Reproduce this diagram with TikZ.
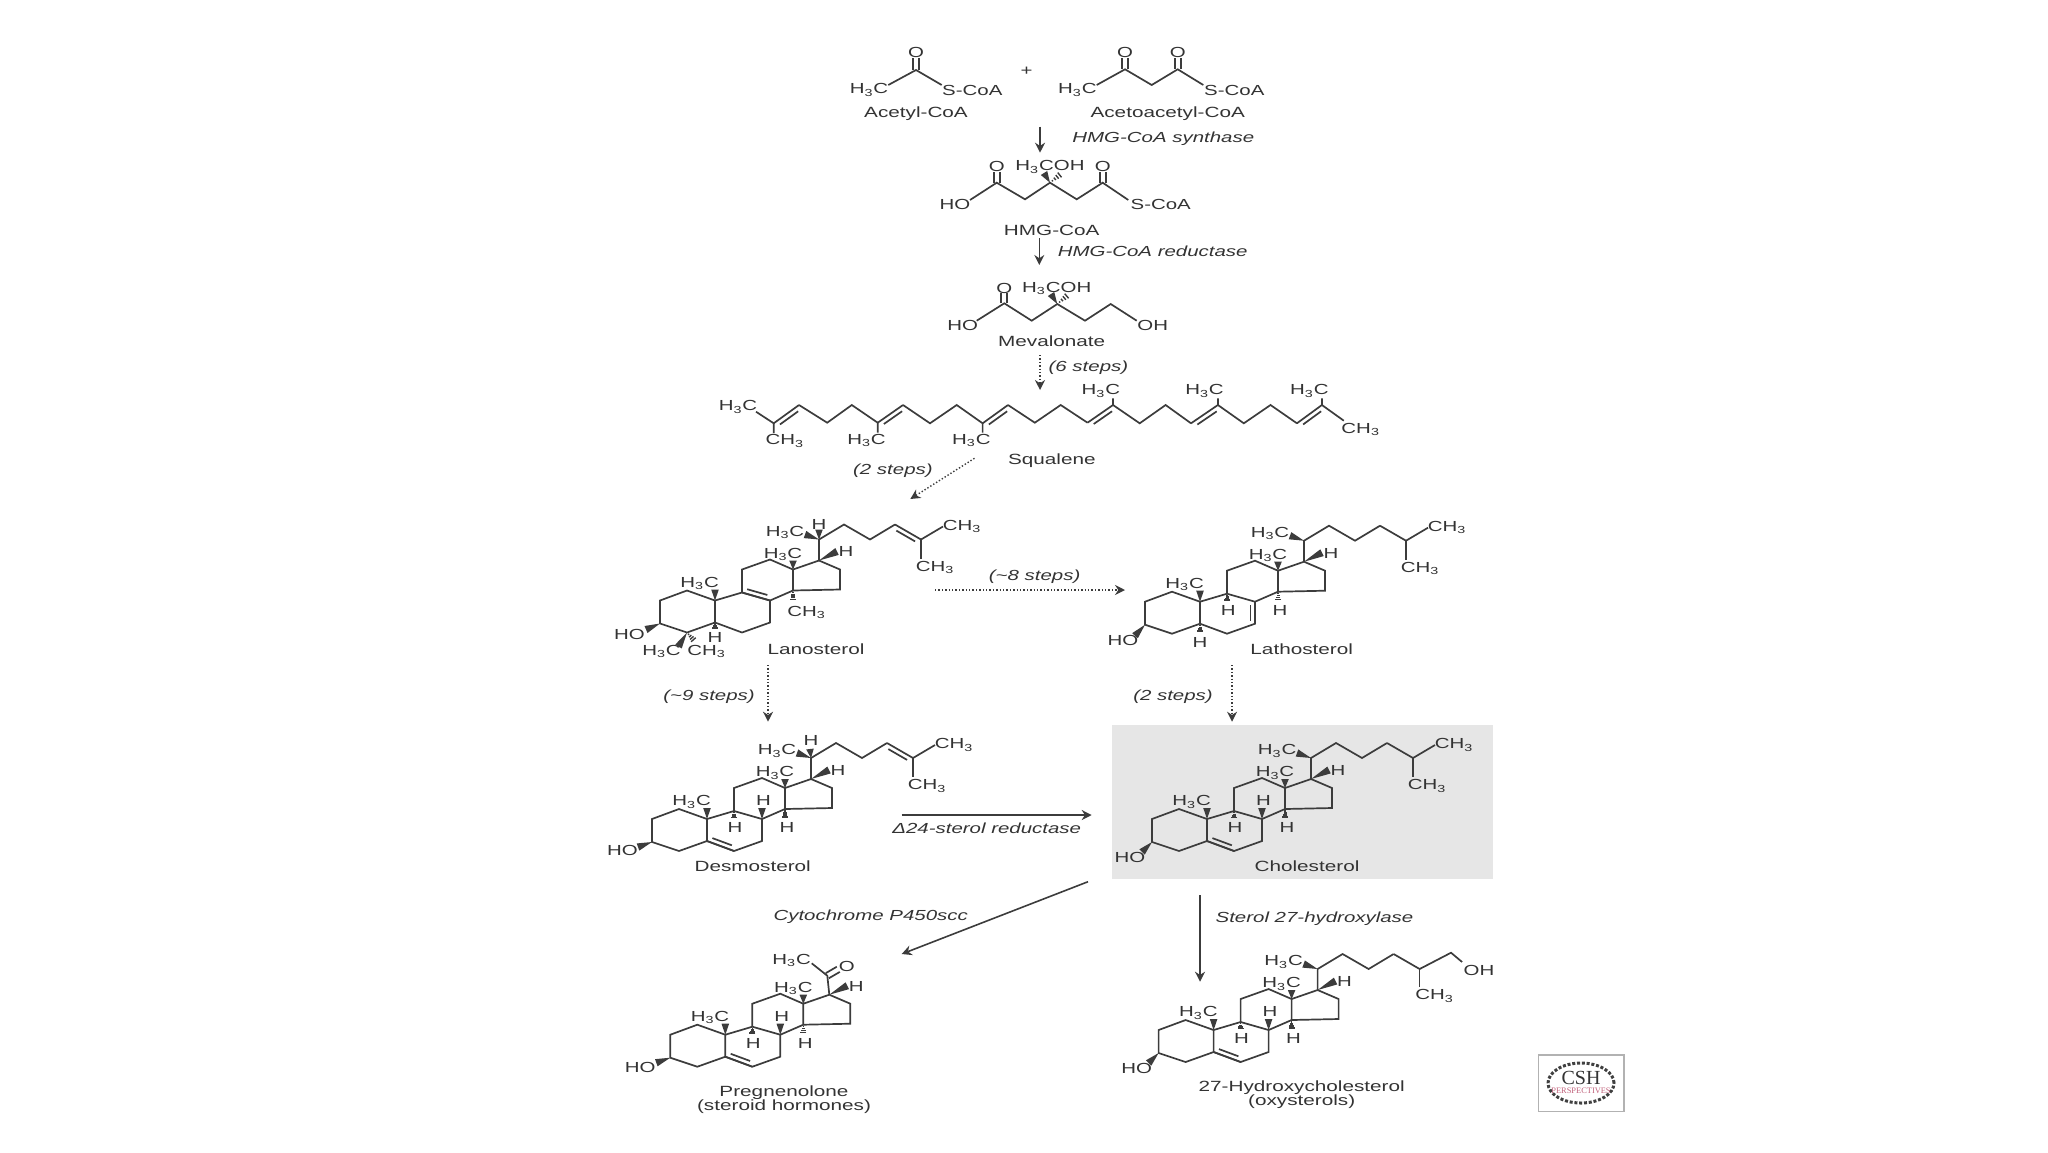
\documentclass[tikz,border=0pt]{standalone}
\usepackage{fontspec}
\setmainfont[FakeStretch=1.4]{Liberation Sans}
\newfontfamily\cshfont{Liberation Serif}
\usepackage{xcolor}
\usetikzlibrary{arrows.meta, calc, shapes.geometric}
\definecolor{inkcolor}{HTML}{333333}
\definecolor{bondcolor}{HTML}{3C3C3C}
\definecolor{boxcolor}{HTML}{E6E6E6}
\definecolor{cshred}{HTML}{C0607A}

% Label shorthands
\newcommand{\hthreec}{H\textsubscript{3}C}
\newcommand{\chthree}{CH\textsubscript{3}}
\newcommand{\hthreecoh}{H\textsubscript{3}COH}

% Bond helpers
\newcommand{\dbond}[3]{%
  \draw[bond] (#1) -- (#2);
  \draw[bond] ($(#1)!0.14!(#2)!2.3pt!#3:(#2)$) -- ($(#2)!0.14!(#1)!2.3pt!-#3:(#1)$);}
\newcommand{\cobond}[2]{%
  \draw[bond] ($(#1)!1.5pt!90:(#2)$) -- ($(#2)!1.5pt!-90:(#1)$);
  \draw[bond] ($(#1)!1.5pt!-90:(#2)$) -- ($(#2)!1.5pt!90:(#1)$);}
\newcommand{\wdgbond}[2]{%
  \fill[bondcolor] (#1) -- ($(#2)!1.9pt!90:(#1)$) -- ($(#2)!1.9pt!-90:(#1)$) -- cycle;}
\newcommand{\hshbond}[2]{%
  \foreach \t in {0.2,0.4,0.6,0.8,1.0}
    \draw[bondcolor, line width=0.7pt] ($(#1)!\t!(#2)!{\t*1.9pt}!90:(#2)$) -- ($(#1)!\t!(#2)!{\t*1.9pt}!-90:(#2)$);}

% Four rings with the groups that all the sterols share
\newcommand{\sterolcore}{%
  \coordinate (c1) at (79,89);
  \coordinate (c2) at (52,99);
  \coordinate (c3) at (52,122);
  \coordinate (c4) at (79,131);
  \coordinate (c5) at (107,121);
  \coordinate (c6) at (134,131);
  \coordinate (c7) at (162,121);
  \coordinate (c8) at (162,99);
  \coordinate (c9) at (134,91);
  \coordinate (c10) at (107,99);
  \coordinate (c11) at (134,68);
  \coordinate (c12) at (162,58);
  \coordinate (c13) at (185,68);
  \coordinate (c14) at (185,89);
  \coordinate (c15) at (232,88);
  \coordinate (c16) at (232,68);
  \coordinate (c17) at (211,59);
  \draw[bond] (c10) -- (c1) -- (c2) -- (c3) -- (c4) -- (c5) -- (c10) -- (c9) -- (c11) -- (c12) -- (c13) -- (c14) -- (c8) -- (c9);
  \draw[bond] (c5) -- (c6) -- (c7) -- (c8);
  \draw[bond] (c13) -- (c17) -- (c16) -- (c15) -- (c14);
  \wdgbond{c10}{107,88}
  \wdgbond{c13}{185,59}
  \wdgbond{c17}{229,50}
  \node[atom] (me19) at (91.7,81) {\hthreec};
  \node[atom] (me18) at (175,52) {\hthreec};
  \node[atom] (h17) at (238,49.5) {H};
}
% Side chain as far as the branch point
\newcommand{\sterolchain}{%
  \coordinate (c20) at (211,38);
  \coordinate (c22) at (236,23);
  \coordinate (c23) at (262,38);
  \coordinate (c24) at (287,23);
  \coordinate (c25) at (313,38);
  \draw[bond] (c17) -- (c20) -- (c22) -- (c23) -- (c24);
  \wdgbond{c20}{197,33}
  \node[atom] (me21) at (177,30) {\hthreec};
}
\newcommand{\sterolends}{%
  \draw[bond] (c25) -- (335,25);
  \draw[bond] (c25) -- (313,57);
  \node[atom] (me26) at (354,24) {\chthree};
  \node[atom] (me27) at (327,65) {\chthree};
}
% Ring hydrogens at C8, C9 and C14
\newcommand{\sterolh}{%
  \hshbond{c9}{134,99}
  \wdgbond{c8}{162,88}
  \hshbond{c14}{185,99}
  \node[atom] (h9) at (135,107) {H};
  \node[atom] (h8) at (163.5,80) {H};
  \node[atom] (h14) at (187,107) {H};
}

\begin{document}
\begin{tikzpicture}[
    x=0.5pt, y=-0.5pt,
    bond/.style={draw=bondcolor, line width=0.85pt},
    atom/.style={font=\fontsize{7.3pt}{9pt}\selectfont, text=inkcolor, inner sep=0pt, yshift=-0.4pt},
    molname/.style={font=\fontsize{7.4pt}{9pt}\selectfont, text=inkcolor, inner sep=0pt, align=center, yshift=-0.5pt},
    enzyme/.style={font=\fontsize{7.3pt}{9pt}\selectfont\itshape, text=inkcolor, inner sep=0pt, yshift=-0.7pt},
    arrow/.style={bondcolor, line width=0.8pt, -{Stealth[length=5pt, width=5pt]}},
    dotarrow/.style={bondcolor, line width=0.7pt, densely dotted, -{Stealth[length=5pt, width=5pt]}}
]
    \useasboundingbox (0,0) rectangle (2048,1152);

    % Grey panel behind cholesterol
    \node[fill=boxcolor, minimum width=190.6pt, minimum height=77pt, inner sep=0pt] (cholbox) at (1302.3,802) {};

    % Acetyl-CoA
    \node[atom] (acme) at (869,89.3) {\hthreec};
    \node[atom] (aco) at (916,51.7) {O};
    \node[atom] (acs) at (972.3,89.3) {S-CoA};
    \draw[bond] (888.3,85) -- (916,70) -- (941.7,85);
    \cobond{916,70}{916,58}
    \node[molname] (acetyl) at (916,112.7) {Acetyl-CoA};
    \node[atom] (plus) at (1026.7,70) {+};

    % Acetoacetyl-CoA
    \node[atom] (aame) at (1077.3,89.3) {\hthreec};
    \node[atom] (aao1) at (1125,51.7) {O};
    \node[atom] (aao2) at (1177.7,51.7) {O};
    \node[atom] (aas) at (1234.3,89.3) {S-CoA};
    \draw[bond] (1096.7,85) -- (1125,69.3) -- (1151.7,85) -- (1177.7,69.3) -- (1203.3,85);
    \cobond{1125,69.3}{1125,58}
    \cobond{1177.7,69.3}{1177.7,58}
    \node[molname] (acetoacetyl) at (1167.7,112.7) {Acetoacetyl-CoA};

    % HMG-CoA
    \node[atom] (hmgho) at (955,204) {HO};
    \node[atom] (hmgo1) at (996.7,166) {O};
    \node[atom] (hmgme) at (1050,166) {\hthreecoh};
    \node[atom] (hmgo2) at (1102.7,166) {O};
    \node[atom] (hmgs) at (1160.7,204) {S-CoA};
    \draw[bond] (970,200) -- (996.7,182.7) -- (1025,199.3) -- (1050,182.7) -- (1076.7,199.3) -- (1102.7,182.7) -- (1128.3,200);
    \cobond{996.7,182.7}{996.7,172}
    \cobond{1102.7,182.7}{1102.7,172}
    \wdgbond{1050,182.7}{1044,173}
    \hshbond{1050,182.7}{1062,173}
    \node[molname] (hmgcoa) at (1051.7,229.3) {HMG-CoA};

    % Mevalonate
    \node[atom] (mvaho) at (962.7,325) {HO};
    \node[atom] (mvao) at (1004.3,287.3) {O};
    \node[atom] (mvame) at (1056.7,287.3) {\hthreecoh};
    \node[atom] (mvaoh) at (1152.7,325) {OH};
    \draw[bond] (976.7,320.7) -- (1004.3,303.3) -- (1031.7,320.7) -- (1057.3,304) -- (1085,320.7) -- (1110.7,304) -- (1136.7,320.7);
    \cobond{1004.3,303.3}{1004.3,293}
    \wdgbond{1057.3,304}{1051,294}
    \hshbond{1057.3,304}{1069,294}
    \node[molname] (mevalonate) at (1051.7,340.7) {Mevalonate};

    % Squalene
    \node[atom] (sq1) at (738,406) {\hthreec};
    \node[atom] (sq2) at (784.8,440) {\chthree};
    \node[atom] (sq3) at (866.5,439.3) {\hthreec};
    \node[atom] (sq4) at (971.4,439.3) {\hthreec};
    \node[atom] (sq5) at (1100.9,390) {\hthreec};
    \node[atom] (sq6) at (1204.5,390) {\hthreec};
    \node[atom] (sq7) at (1309.4,390) {\hthreec};
    \node[atom] (sq8) at (1360.7,428.3) {\chthree};
    \draw[bond] (756,411.7) -- (773.7,423.3) -- (773.7,433);
    \draw[bond] (799,405) -- (827.2,422.7) -- (851.8,405) -- (877.7,422.7) -- (877.7,432.7);
    \draw[bond] (903,405) -- (930,423.3) -- (956.7,405) -- (982.6,423.3) -- (982.6,432.7);
    \draw[bond] (1008,405) -- (1034.8,422.7) -- (1060.7,405) -- (1087.5,422.7);
    \draw[bond] (1113,398.3) -- (1113,405) -- (1139.7,423.3) -- (1165.6,405) -- (1191,423.3);
    \draw[bond] (1217.9,398.3) -- (1217.9,405) -- (1243.8,423.3) -- (1270.5,405) -- (1296.9,423.3);
    \draw[bond] (1321.9,398.3) -- (1321.9,405) -- (1343.8,420.7);
    \dbond{773.7,423.3}{799,405}{-90}
    \dbond{877.7,422.7}{903,405}{-90}
    \dbond{982.6,423.3}{1008,405}{-90}
    \dbond{1087.5,422.7}{1113,405}{-90}
    \dbond{1191,423.3}{1217.9,405}{-90}
    \dbond{1296.9,423.3}{1321.9,405}{-90}
    \node[molname] (squalene) at (1051.8,459.3) {Squalene};

    % Lanosterol
    \begin{scope}[shift={(608,501.5)}, name prefix=lano-]
        \sterolcore
        \sterolchain
        \dbond{c24}{c25}{-90}
        \sterolends
        \dbond{c9}{c8}{90}
        \wdgbond{c3}{38,128}
        \node[atom] (ho) at (21.5,132.5) {HO};
        \wdgbond{c20}{211,28}
        \node[atom] (h20) at (211,22) {H};
        \hshbond{c5}{107,128}
        \node[atom] (h5) at (107,135.5) {H};
        \wdgbond{c4}{70.5,145}
        \hshbond{c4}{87,140}
        \node[atom] (me30) at (53.5,149.2) {\hthreec};
        \node[atom] (me31) at (98.7,149.2) {\chthree};
        \hshbond{c14}{185,100}
        \node[atom] (me32) at (198.7,110) {\chthree};
    \end{scope}
    \node[molname] (lanosterol) at (816,648) {Lanosterol};

    % Lathosterol
    \begin{scope}[shift={(1093,502.7)}, name prefix=latho-]
        \sterolcore
        \sterolchain
        \draw[bond] (c24) -- (c25);
        \sterolends
        \dbond{c7}{c8}{90}
        \wdgbond{c3}{42,133}
        \node[atom] (ho) at (30,137) {HO};
        \hshbond{c9}{134,99}
        \hshbond{c14}{185,99}
        \hshbond{c5}{107,130}
        \node[atom] (h9) at (135.3,107.3) {H};
        \node[atom] (h14) at (187,107.3) {H};
        \node[atom] (h5) at (107,139) {H};
    \end{scope}
    \node[molname] (lathosterol) at (1301.7,648) {Lathosterol};

    % Desmosterol
    \begin{scope}[shift={(600,720)}, name prefix=desmo-]
        \sterolcore
        \sterolchain
        \dbond{c24}{c25}{-90}
        \sterolends
        \sterolh
        \dbond{c5}{c6}{90}
        \wdgbond{c3}{38,127}
        \node[atom] (ho) at (22.5,130) {HO};
        \wdgbond{c20}{210,29}
        \node[atom] (h20) at (211,20) {H};
    \end{scope}
    \node[molname] (desmosterol) at (752.7,865) {Desmosterol};

    % Cholesterol
    \begin{scope}[shift={(1100,720)}, name prefix=chol-]
        \sterolcore
        \sterolchain
        \draw[bond] (c24) -- (c25);
        \sterolends
        \sterolh
        \dbond{c5}{c6}{90}
        \wdgbond{c3}{42,132}
        \node[atom] (ho) at (30,136.7) {HO};
    \end{scope}
    \node[molname] (cholesterol) at (1307,865) {Cholesterol};

    % Pregnenolone
    \begin{scope}[shift={(618.3,935.7)}, name prefix=preg-]
        \sterolcore
        \sterolh
        \dbond{c5}{c6}{90}
        \wdgbond{c3}{38,127}
        \node[atom] (ho) at (22,131) {HO};
        \coordinate (c20) at (209,40);
        \draw[bond] (c17) -- (c20) -- (193.4,27.6);
        \cobond{c20}{220,33.6}
        \node[atom] (me21) at (173.4,23.6) {\hthreec};
        \node[atom] (o20) at (228.4,30.3) {O};
    \end{scope}
    \node[molname] (pregnenolone) at (784,1091.7) {Pregnenolone};
    \node[molname] (preghormones) at (784,1106) {(steroid hormones)};

    % 27-Hydroxycholesterol
    \begin{scope}[shift={(1106.6,931)}, name prefix=oxy-]
        \sterolcore
        \sterolchain
        \draw[bond] (c24) -- (c25);
        \sterolh
        \dbond{c5}{c6}{90}
        \wdgbond{c3}{42,132}
        \node[atom] (ho) at (30,136.7) {HO};
        \draw[bond] (c25) -- (344.4,21.7) -- (355.5,31);
        \draw[bond] (c25) -- (313,56);
        \node[atom] (oh27) at (372.4,39) {OH};
        \node[atom] (me26) at (328,64) {\chthree};
    \end{scope}
    \node[molname] (oxychol) at (1301.7,1086.7) {27-Hydroxycholesterol};
    \node[molname] (oxysterols) at (1301.7,1101) {(oxysterols)};

    % Enzymes and step counts
    \node[enzyme] (synthase) at (1163.3,137.7) {HMG-CoA synthase};
    \node[enzyme] (reductase) at (1152.7,250) {HMG-CoA reductase};
    \node[enzyme] (sixsteps) at (1088.4,366.7) {(6 steps)};
    \node[enzyme] (twosteps) at (892.9,469.3) {(2 steps)};
    \node[enzyme] (eightsteps) at (1034.6,575) {(\textasciitilde8 steps)};
    \node[enzyme] (ninesteps) at (709,695) {(\textasciitilde9 steps)};
    \node[enzyme] (laststeps) at (1173,695) {(2 steps)};
    \node[enzyme] (delta) at (986.7,827) {Δ24-sterol reductase};
    \node[enzyme] (cytochrome) at (870.7,915) {Cytochrome P450scc};
    \node[enzyme] (hydroxylase) at (1314.5,917.7) {Sterol 27-hydroxylase};

    % Arrow ends
    \coordinate (synA) at (1040,126.7);
    \coordinate (synB) at (1040,152.7);
    \coordinate (redA) at (1039.3,238.3);
    \coordinate (redB) at (1039.3,265);
    \coordinate (sixA) at (1040,355);
    \coordinate (sixB) at (1040,390);
    \coordinate (twoA) at (974.5,458.3);
    \coordinate (twoB) at (910.3,499);
    \coordinate (eightA) at (935,590);
    \coordinate (eightB) at (1125,590);
    \coordinate (nineA) at (768,665);
    \coordinate (nineB) at (768,721.7);
    \coordinate (lastA) at (1232,665);
    \coordinate (lastB) at (1232,721.7);
    \coordinate (deltaA) at (901.7,815);
    \coordinate (deltaB) at (1091.7,815);
    \coordinate (cytoA) at (1088,881.7);
    \coordinate (cytoB) at (901.7,954);
    \coordinate (hydroA) at (1200,895);
    \coordinate (hydroB) at (1200,981.7);

    % Arrows
    \draw[arrow] (synA) -- (synB);
    \draw[arrow] (redA) -- (redB);
    \draw[dotarrow] (sixA) -- (sixB);
    \draw[dotarrow] (twoA) -- (twoB);
    \draw[dotarrow] (eightA) -- (eightB);
    \draw[dotarrow] (nineA) -- (nineB);
    \draw[dotarrow] (lastA) -- (lastB);
    \draw[arrow] (deltaA) -- (deltaB);
    \draw[arrow] (cytoA) -- (cytoB);
    \draw[arrow] (hydroA) -- (hydroB);

    % Publisher mark
    \node[draw=gray!60, line width=0.8pt, minimum width=42.7pt, minimum height=28.3pt, inner sep=0pt] (cshbox) at (1581.3,1083.3) {};
    \node[ellipse, draw=black!75, line width=1.5pt, dash pattern=on 1.5pt off 0.9pt, minimum width=33pt, minimum height=20pt, inner sep=0pt] (cshring) at (1581,1083) {};
    \node[inner sep=0pt, text=inkcolor, font=\cshfont\fontsize{10pt}{11pt}\selectfont] (cshtext) at (1581,1078) {CSH};
    \node[inner sep=0pt, text=cshred, font=\cshfont\fontsize{4.2pt}{5pt}\selectfont] (cshsub) at (1581,1091) {PERSPECTIVES};

\end{tikzpicture}
\end{document}
